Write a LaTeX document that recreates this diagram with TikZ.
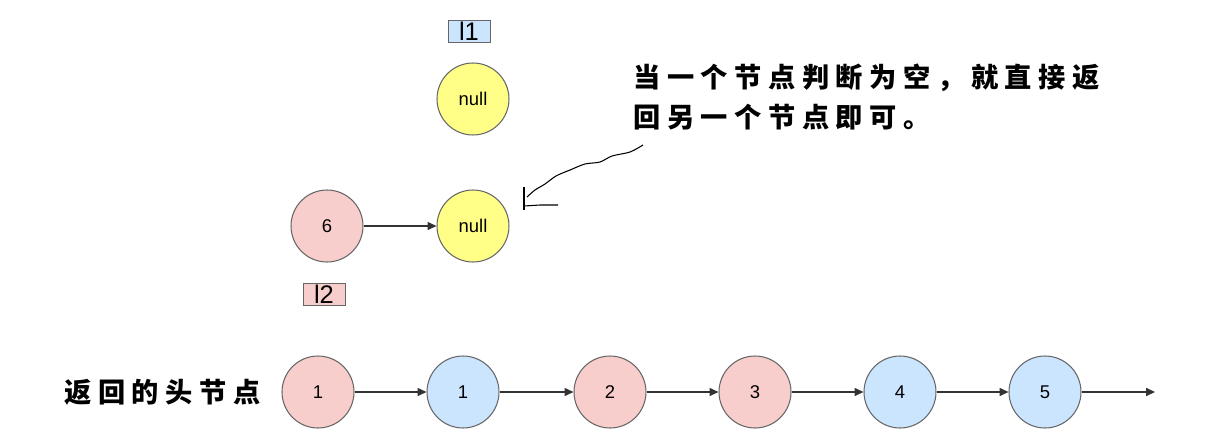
\documentclass[tikz,border=0pt]{standalone}
\usepackage{fontspec}
\setmainfont{Liberation Sans}
\newfontfamily\cjk[LetterSpace=24]{Noto Sans CJK SC}
\usetikzlibrary{arrows.meta}
\definecolor{pinkfill}{HTML}{F8CECC}
\definecolor{bluefill}{HTML}{CCE5FF}
\definecolor{yellowfill}{HTML}{FFFF88}
\definecolor{edgegray}{HTML}{666666}
\definecolor{arrowgray}{HTML}{333333}
\begin{document}
\begin{tikzpicture}[x=0.02cm,y=-0.02cm,
  listnode/.style={circle,draw=edgegray,line width=0.6pt,minimum size=1.44cm,inner sep=0pt,font=\fontsize{10.5}{12}\selectfont},
  pinknode/.style={listnode,fill=pinkfill},
  bluenode/.style={listnode,fill=bluefill},
  nullnode/.style={listnode,fill=yellowfill},
  tag/.style={draw=edgegray,line width=0.5pt,minimum width=0.84cm,minimum height=0.44cm,inner sep=0pt,font=\fontsize{14.5}{16}\selectfont},
  link/.style={-{Triangle[length=5pt,width=4.5pt]},draw=arrowgray,line width=0.7pt},
  cjktext/.style={font=\cjk\bfseries\fontsize{15.5}{22.7}\selectfont,inner sep=0pt,align=left},
  hand/.style={draw=black,line width=0.6pt}
]
\useasboundingbox (0,0) rectangle (1215,447);
% top part
\node[tag,fill=bluefill] (l1) at (469,31) {l1};
\node[nullnode] (n1) at (473,99) {null};
\node[pinknode] (six) at (327,226) {6};
\node[nullnode] (n2) at (473,226) {null};
\node[tag,fill=pinkfill] (l2) at (324,294) {l2};
\draw[link] (six) -- (n2);
% annotation
\node[cjktext,anchor=west] (note) at (633,97) {当一个节点判断为空，就直接返\\回另一个节点即可。};
\coordinate (hs) at (643,145);
\coordinate (he) at (527,197);
\draw[hand] plot[smooth] coordinates {(hs) (630,152) (612,156) (600,162) (585,164) (570,170) (556,176) (545,184) (535,190) (he)};
\coordinate (v1) at (524,187);
\coordinate (v2) at (524,210);
\coordinate (h2) at (558,205);
\draw[hand] (v1) -- (v2);
\draw[hand] (524,206) -- (540,205) -- (h2);
% bottom list
\node[cjktext,anchor=west] (ret) at (64,392) {返回的头节点};
\node[pinknode] (a) at (318,392) {1};
\node[bluenode] (b) at (463,392) {1};
\node[pinknode] (c) at (610,392) {2};
\node[pinknode] (d) at (755,392) {3};
\node[bluenode] (e) at (900,392) {4};
\node[bluenode] (f) at (1045,392) {5};
\coordinate (end) at (1155,392);
\draw[link] (a) -- (b);
\draw[link] (b) -- (c);
\draw[link] (c) -- (d);
\draw[link] (d) -- (e);
\draw[link] (e) -- (f);
\draw[link] (f) -- (end);
\end{tikzpicture}
\end{document}
